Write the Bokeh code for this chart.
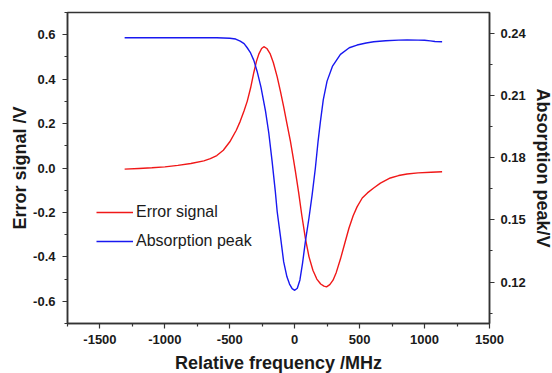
from bokeh.plotting import figure
from bokeh.models import Range1d, LinearAxis, FixedTicker, Legend, LegendItem
from bokeh.embed import file_html
from bokeh.resources import INLINE

# Error signal (left axis, V)
err_x = [-1310, -1200, -1100, -1000, -900, -800, -700, -650, -600, -550, -500, -450, -420,
         -390, -366, -340, -315, -295, -275, -255, -238, -215, -190, -165, -135, -110, -85,
         -60, -33, -10, 5, 30, 55, 83, 110, 140, 170, 200, 225, 245, 270, 295, 320, 352, 385,
         418, 450, 480, 520, 560, 608, 660, 736, 800, 865, 950, 1050, 1135]
err_y = [-0.005, -0.002, 0.001, 0.005, 0.012, 0.020, 0.032, 0.042, 0.056, 0.080, 0.118, 0.170,
         0.210, 0.258, 0.300, 0.360, 0.430, 0.480, 0.515, 0.538, 0.546, 0.538, 0.515, 0.475,
         0.410, 0.345, 0.275, 0.200, 0.120, 0.040, -0.014, -0.110, -0.215, -0.320, -0.400,
         -0.460, -0.500, -0.522, -0.532, -0.535, -0.525, -0.505, -0.470, -0.410, -0.340,
         -0.270, -0.215, -0.175, -0.135, -0.112, -0.090, -0.068, -0.045, -0.034, -0.027,
         -0.022, -0.019, -0.017]

# Absorption peak (right axis, V)
abs_x = [-1310, -1000, -800, -600, -500, -455, -420, -390, -366, -340, -315, -290, -260, -225,
         -200, -174, -150, -135, -110, -85, -60, -40, -20, 0, 20, 40, 60, 83, 110, 134, 159,
         180, 198, 220, 249, 290, 352, 420, 480, 550, 608, 700, 800, 865, 950, 1000, 1044,
         1080, 1135]
abs_y = [0.2378, 0.2378, 0.2378, 0.2378, 0.2376, 0.2372, 0.2362, 0.2350, 0.2330, 0.2305,
         0.2269, 0.2217, 0.2140, 0.2024, 0.1920, 0.1781, 0.1640, 0.1539, 0.1420, 0.1297,
         0.1225, 0.1190, 0.1168, 0.1160, 0.1170, 0.1210, 0.1290, 0.1400, 0.1510, 0.1620,
         0.1750, 0.1880, 0.1975, 0.2080, 0.2169, 0.2240, 0.2298, 0.2330, 0.2343, 0.2353,
         0.2359, 0.2364, 0.2367, 0.2368, 0.2367, 0.2366, 0.2363, 0.2360, 0.2359]

x_ticks = [-1500, -1000, -500, 0, 500, 1000, 1500]
x_labels = ["-1500", "-1000", "-500", "0", "500", "1000", "1500"]
x_minor = [-1750, -1250, -750, -250, 250, 750, 1250]
left_ticks = [-0.6, -0.4, -0.2, 0.0, 0.2, 0.4, 0.6]
left_labels = ["-0.6", "-0.4", "-0.2", "0.0", "0.2", "0.4", "0.6"]
left_minor = [-0.7, -0.5, -0.3, -0.1, 0.1, 0.3, 0.5, 0.7]
right_ticks = [0.12, 0.15, 0.18, 0.21, 0.24]
right_labels = ["0.12", "0.15", "0.18", "0.21", "0.24"]
right_minor = [0.105, 0.135, 0.165, 0.195, 0.225]

FONT = "Liberation Sans"
AX = "#333333"

p = figure(frame_width=422, frame_height=311, output_backend="svg", toolbar_location=None,
           x_range=Range1d(-1750, 1500), y_range=Range1d(-0.7, 0.7),
           min_border_left=67, min_border_right=0, min_border_top=12, min_border_bottom=0,
           x_axis_label="Relative frequency /MHz", y_axis_label="Error signal /V")
p.extra_y_ranges = {"abs": Range1d(0.10, 0.25)}
p.add_layout(LinearAxis(y_range_name="abs", axis_label="Absorption peak/V"), "right")

p.xgrid.visible = False
p.ygrid.visible = False
p.outline_line_color = AX
p.outline_line_width = 1.5
p.background_fill_color = "white"
p.border_fill_color = "white"

xa, ya, yb = p.xaxis[0], p.yaxis[0], p.yaxis[1]
xa.ticker = FixedTicker(ticks=x_ticks, minor_ticks=x_minor)
ya.ticker = FixedTicker(ticks=left_ticks, minor_ticks=left_minor)
yb.ticker = FixedTicker(ticks=right_ticks, minor_ticks=right_minor)
xa.major_label_overrides = dict(zip(x_ticks, x_labels))
ya.major_label_overrides = dict(zip(left_ticks, left_labels))
yb.major_label_overrides = dict(zip(right_ticks, right_labels))

for ax in [xa, ya, yb]:
    ax.axis_line_color = AX
    ax.axis_line_width = 1.5
    ax.major_tick_line_color = AX
    ax.minor_tick_line_color = AX
    ax.major_tick_line_width = 1.2
    ax.minor_tick_line_width = 1.2
    ax.major_tick_in = 0
    ax.major_tick_out = 5
    ax.minor_tick_in = 0
    ax.minor_tick_out = 3
    ax.major_label_text_font = FONT
    ax.major_label_text_font_style = "bold"
    ax.major_label_text_font_size = "13px"
    ax.major_label_text_color = "#1a1a1a"
    ax.axis_label_text_font = FONT
    ax.axis_label_text_font_style = "bold"
    ax.axis_label_text_font_size = "18px"
    ax.axis_label_text_color = "#1a1a1a"

xa.major_label_standoff = 6
xa.axis_label_standoff = 6
ya.major_label_standoff = 7
ya.axis_label_standoff = 0
yb.major_label_standoff = 6
yb.axis_label_standoff = 4

r_err = p.line(err_x, err_y, line_color="#f01818", line_width=1.4)
r_abs = p.line(abs_x, abs_y, line_color="#1818f0", line_width=1.4, y_range_name="abs")

legend = Legend(items=[LegendItem(label="Error signal", renderers=[r_err]),
                       LegendItem(label="Absorption peak", renderers=[r_abs])],
                location=(29, 72))
legend.border_line_color = None
legend.background_fill_alpha = 0
legend.padding = 0
legend.margin = 0
legend.spacing = 9
legend.glyph_width = 37
legend.glyph_height = 20
legend.label_height = 20
legend.label_standoff = 3
legend.label_text_font = FONT
legend.label_text_font_size = "16px"
legend.label_text_color = "#1a1a1a"
p.add_layout(legend, "center")

open("out.html", "w").write(file_html(p, INLINE))
